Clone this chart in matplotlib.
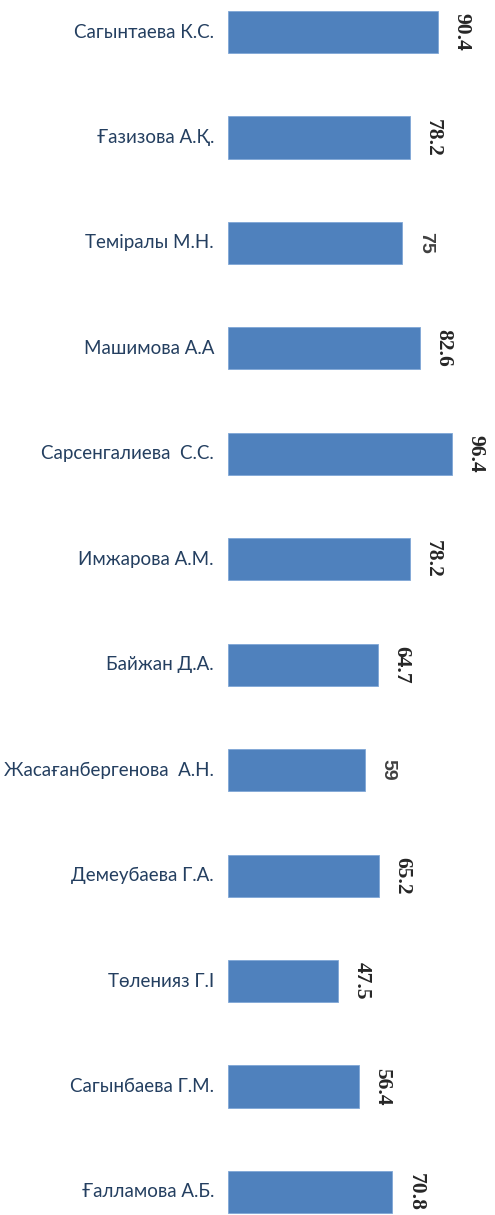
import matplotlib
matplotlib.use("Agg")
import matplotlib.pyplot as plt

# данные
names = ['Сагынтаева К.С.', 'Ғазизова А.Қ.', 'Теміралы М.Н.', 'Машимова А.А',
         'Сарсенгалиева  С.С.', 'Имжарова А.М.', 'Байжан Д.А.',
         'Жасағанбергенова  А.Н.', 'Демеубаева Г.А.', 'Төленияз Г.І',
         'Сагынбаева Г.М.', 'Ғалламова А.Б.']
scores = [90.4, 78.2, 75, 82.6, 96.4, 78.2, 64.7, 59, 65.2, 47.5, 56.4, 70.8]
score_labels = ['90.4', '78.2', '75', '82.6', '96.4', '78.2', '64.7',
                '59', '65.2', '47.5', '56.4', '70.8']

W, H = 495, 1215
fig = plt.figure(figsize=(W / 100, H / 100), dpi=100)
left = 228 / W
ax = fig.add_axes([left, 0, 1 - left, 1])

px_per_unit = 2.323
spacing = 105.45
first = 32
ax.set_xlim(0, (W - 228) / px_per_unit)
ax.set_ylim((H - first) / spacing, -first / spacing)

pos = list(range(len(names)))
ax.barh(pos, scores, height=0.4, color='#4F81BD', edgecolor='#7FA6D6', linewidth=0.6)

for i, (v, lab) in enumerate(zip(scores, score_labels)):
    if lab in ('59', '75'):
        ax.text(v + 10, i, lab, rotation=270, ha='center', va='center',
                fontsize=14, fontweight='bold', color='#404040', family='Liberation Sans')
    else:
        ax.text(v + 10, i, lab, rotation=270, ha='center', va='center',
                fontsize=15.5, fontweight='bold', color='#262626', family='Liberation Serif')

for i, n in enumerate(names):
    ax.text(-14 / px_per_unit, i, n, ha='right', va='center',
            fontsize=13.5, color='#243F60', family='Lato', clip_on=False)

ax.axis('off')
fig.savefig('out.png', dpi=100)
